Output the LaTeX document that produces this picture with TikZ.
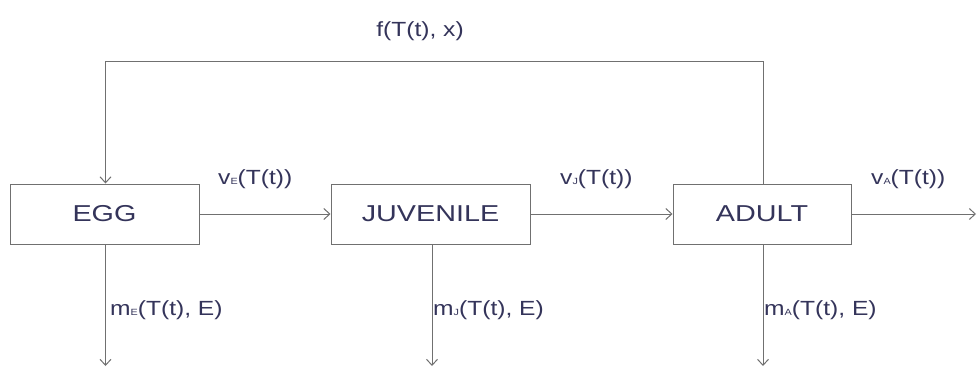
\documentclass[tikz,border=0pt]{standalone}
\usepackage{fontspec}
\usepackage{graphicx}
\setmainfont{Liberation Sans}
\usetikzlibrary{arrows.meta}
\definecolor{ink}{HTML}{34345A}
\definecolor{wire}{HTML}{707070}
% small subscript letter sitting on the baseline
\newcommand{\sbs}[1]{\raisebox{-0.5pt}{\fontsize{9}{9}\selectfont #1}}
% horizontally widened lettering
\newcommand{\wideA}[1]{\scalebox{1.25}[1]{#1}}
\newcommand{\wideB}[1]{\scalebox{1.2}[1]{#1}}
\tikzset{
  stage/.style={draw=wire, line width=1pt, fill=white, inner sep=0pt,
    minimum height=60pt, text=ink, font=\fontsize{23}{23}\selectfont},
  flow/.style={draw=wire, line width=1pt, -{Straight Barb[length=6pt,width=11pt]}},
  rate/.style={text=ink, font=\fontsize{20.5}{20.5}\selectfont, inner sep=0pt}
}
\begin{document}
\begin{tikzpicture}[x=1pt,y=-1pt]
\useasboundingbox (0,0) rectangle (979,369);
% life stages
\node[stage, minimum width=189pt] (egg)   at (104.5,214) {\wideA{EGG}};
\node[stage, minimum width=199pt] (juv)   at (430.5,214) {\wideA{JUVENILE}};
\node[stage, minimum width=178pt] (adult) at (762,214)   {\wideA{ADULT}};
% end points of the outgoing flows
\coordinate (eggout)   at (105.5,366);
\coordinate (juvout)   at (432,366);
\coordinate (adultout) at (763,366);
\coordinate (leave)    at (976,214);
\coordinate (topR)     at (763,62);
\coordinate (topL)     at (105.5,62);
% transitions
\draw[flow] (egg.east) -- (juv.west);
\draw[flow] (juv.east) -- (adult.west);
\draw[flow] (adult.east) -- (leave);
% mortality
\draw[flow] (egg.south -| eggout) -- (eggout);
\draw[flow] (juv.south -| juvout) -- (juvout);
\draw[flow] (adult.south -| adultout) -- (adultout);
% reproduction feedback
\draw[flow] (adult.north -| topR) -- (topR) -- (topL) -- (egg.north -| topL);
% rate labels
\node[rate] (fec) at (420,31) {\wideB{f(T(t), x)}};
\node[rate, anchor=west] (ve) at (218,179) {\wideB{v\sbs{E}(T(t))}};
\node[rate, anchor=west] (vj) at (560,179) {\wideB{v\sbs{J}(T(t))}};
\node[rate, anchor=west] (va) at (871,179) {\wideB{v\sbs{A}(T(t))}};
\node[rate, anchor=west] (me) at (110,310) {\wideB{m\sbs{E}(T(t), E)}};
\node[rate, anchor=west] (mj) at (433,310) {\wideB{m\sbs{J}(T(t), E)}};
\node[rate, anchor=west] (ma) at (764,310) {\wideB{m\sbs{A}(T(t), E)}};
\end{tikzpicture}
\end{document}
